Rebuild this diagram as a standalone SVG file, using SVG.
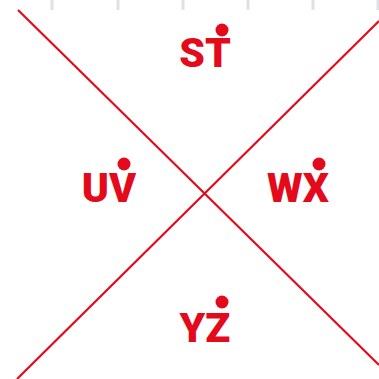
<svg xmlns="http://www.w3.org/2000/svg" width="379" height="379" viewBox="0 0 379 379">
<style>
.tick{stroke:#e0e0e8;stroke-width:3}
.ln{stroke:#e30a1c;stroke-width:2.2;fill:none}
.lbl{font-family:Roboto,"Liberation Sans",sans-serif;font-weight:900;font-size:41px;fill:#e30a1c;text-anchor:middle}
.dot{fill:#e30a1c}
</style>
<g id="ticks">
<line class="tick" x1="52" y1="0" x2="52" y2="10"/>
<line class="tick" x1="118" y1="0" x2="118" y2="10"/>
<line class="tick" x1="183" y1="0" x2="183" y2="10"/>
<line class="tick" x1="248" y1="0" x2="248" y2="10"/>
<line class="tick" x1="313" y1="0" x2="313" y2="10"/>
<line class="tick" x1="378" y1="0" x2="378" y2="10"/>
</g>
<g id="connectors">
<line class="ln" x1="18" y1="10" x2="379" y2="365"/>
<line class="ln" x1="379" y1="21" x2="17" y2="379"/>
</g>
<g id="n-st"><text class="lbl" x="205" y="67">ST</text><circle class="dot" cx="222" cy="30" r="6.5"/></g>
<g id="n-uv"><text class="lbl" x="109" y="202">UV</text><circle class="dot" cx="124" cy="164" r="6.5"/></g>
<g id="n-wx"><text class="lbl" x="298" y="202">WX</text><circle class="dot" cx="319" cy="164" r="6.5"/></g>
<g id="n-yz"><text class="lbl" x="205" y="342">YZ</text><circle class="dot" cx="222" cy="302" r="6.5"/></g>
</svg>
